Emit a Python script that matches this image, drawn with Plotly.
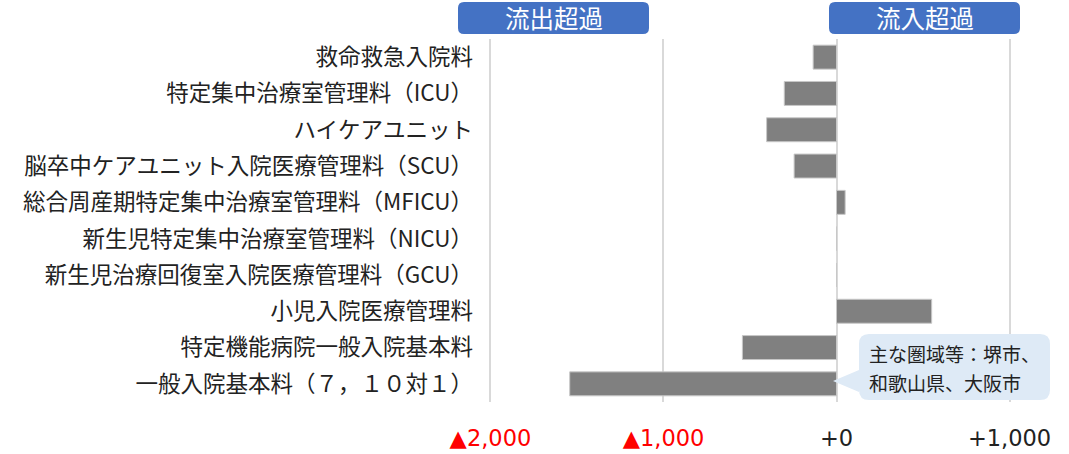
import plotly.graph_objects as go

categories = [
    "救命救急入院料",
    "特定集中治療室管理料（ICU）",
    "ハイケアユニット",
    "脳卒中ケアユニット入院医療管理料（SCU）",
    "総合周産期特定集中治療室管理料（MFICU）",
    "新生児特定集中治療室管理料（NICU）",
    "新生児治療回復室入院医療管理料（GCU）",
    "小児入院医療管理料",
    "特定機能病院一般入院基本料",
    "一般入院基本料（７，１０対１）",
]
values = [-135, -302, -404, -245, 50, 0, 0, 550, -544, -1542]
tick_vals = [-2000, -1000, 0, 1000]
tick_text = ['<span style="color:#FF0000">▲2,000</span>',
             '<span style="color:#FF0000">▲1,000</span>',
             '+0', '+1,000']
bubble_lines = ["主な圏域等：堺市、", "和歌山県、大阪市"]

W, H = 1069, 454
L, R, T, B = 487, 56, 39, 52
PW, PH = W - L - R, H - T - B
XMIN, XMAX = -2020, 1020


def px(x):
    return (x - L) / PW


def py(y):
    return (H - B - y) / PH


def rrect(x0, y0, x1, y1, r):
    rx, ry = r / PW, r / PH
    a, b, c, d = px(x0), py(y1), px(x1), py(y0)
    return (f"M{a+rx},{d} L{c-rx},{d} Q{c},{d} {c},{d-ry} L{c},{b+ry} Q{c},{b} {c-rx},{b} "
            f"L{a+rx},{b} Q{a},{b} {a},{b+ry} L{a},{d-ry} Q{a},{d} {a+rx},{d} Z")


def bubble(x0, y0, x1, y1, r, tip, base0, base1):
    rx, ry = r / PW, r / PH
    a, b, c, d = px(x0), py(y1), px(x1), py(y0)
    return (f"M{a+rx},{d} L{c-rx},{d} Q{c},{d} {c},{d-ry} L{c},{b+ry} Q{c},{b} {c-rx},{b} "
            f"L{a+rx},{b} Q{a},{b} {a},{b+ry} L{a},{py(base1)} L{px(tip[0])},{py(tip[1])} "
            f"L{a},{py(base0)} L{a},{d-ry} Q{a},{d} {a+rx},{d} Z")


fig = go.Figure(go.Bar(
    y=categories, x=values, orientation="h",
    marker=dict(color="#808080", line=dict(color="#c8c8c8", width=1)),
    hoverinfo="skip",
))

fig.update_layout(
    width=W, height=H,
    margin=dict(l=L, r=R, t=T, b=B),
    paper_bgcolor="white", plot_bgcolor="white",
    showlegend=False, bargap=0.34,
    font=dict(family="Noto Sans CJK JP", color="#222222"),
    xaxis=dict(range=[XMIN, XMAX], tickvals=tick_vals, ticktext=tick_text,
               showgrid=True, gridcolor="#d9d9d9", gridwidth=1.5,
               zeroline=False, showline=False, ticks="", automargin=False,
               ticklabelstandoff=20,
               tickfont=dict(family="DejaVu Sans", size=22.5, color="#222222")),
    yaxis=dict(range=[9.5, -0.5], autorange=False, showgrid=False, zeroline=False,
               showline=False, ticks="", ticklabelstandoff=13, automargin=False,
               tickfont=dict(size=22.5, color="#222222")),
    shapes=[
        dict(type="path", xref="paper", yref="paper", path=rrect(458, 2, 649, 34, 6),
             fillcolor="#4472C4", line=dict(width=0), layer="above"),
        dict(type="path", xref="paper", yref="paper", path=rrect(829, 2, 1020, 34, 6),
             fillcolor="#4472C4", line=dict(width=0), layer="above"),
        dict(type="path", xref="paper", yref="paper",
             path=bubble(859, 334, 1050, 400, 10, (833, 381), 370, 392),
             fillcolor="#DEEAF6", line=dict(width=0), layer="above"),
    ],
    annotations=[
        dict(text="流出超過", xref="paper", yref="paper", x=px(553.5), y=py(18),
             xanchor="center", yanchor="middle", showarrow=False,
             font=dict(size=24.5, color="white")),
        dict(text="流入超過", xref="paper", yref="paper", x=px(924.5), y=py(18),
             xanchor="center", yanchor="middle", showarrow=False,
             font=dict(size=24.5, color="white")),
        dict(text=bubble_lines[0], xref="paper", yref="paper", x=px(867), y=py(353),
             xanchor="left", yanchor="middle", align="left", showarrow=False,
             font=dict(size=19, color="#222222")),
        dict(text=bubble_lines[1], xref="paper", yref="paper", x=px(867), y=py(382),
             xanchor="left", yanchor="middle", align="left", showarrow=False,
             font=dict(size=19, color="#222222")),
    ],
)

fig.write_html("out.html", config={"displayModeBar": False},
               post_script="document.body.style.margin='0';document.body.style.overflow='hidden';")
